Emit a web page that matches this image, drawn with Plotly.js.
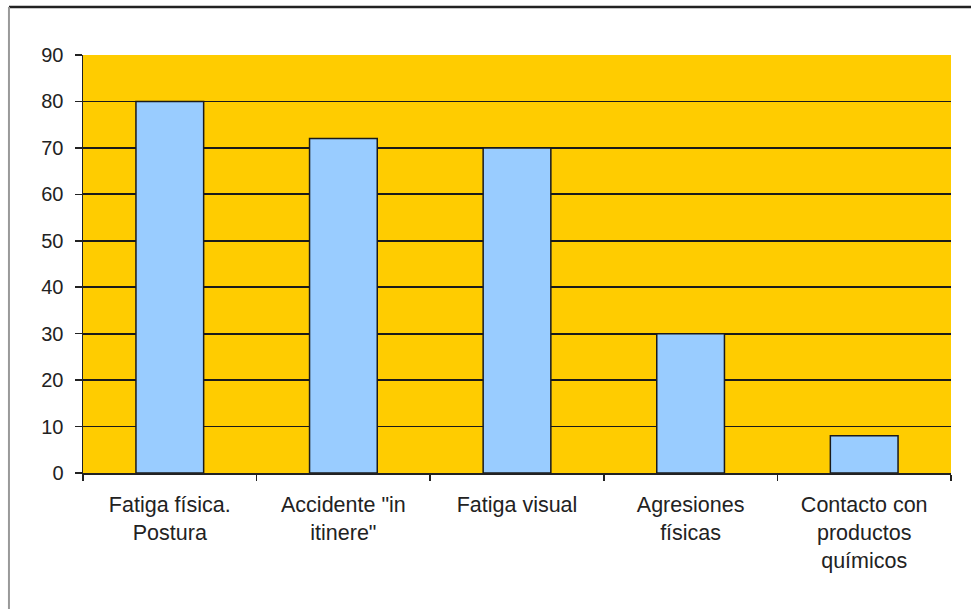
<!DOCTYPE html>
<html>
<head>
<meta charset="utf-8">
<script src="https://cdn.plot.ly/plotly-3.0.1.min.js"></script>
<style>html,body{margin:0;padding:0;background:#fff;}#chart{width:971px;height:609px;}</style>
</head>
<body>
<div id="chart"></div>
<script>
const categories = ["Fatiga física.<br>Postura", "Accidente \"in<br>itinere\"", "Fatiga visual", "Agresiones<br>físicas", "Contacto con<br>productos<br>químicos"];
const values = [80, 72, 70, 30, 8];
const yTicks = [0, 10, 20, 30, 40, 50, 60, 70, 80, 90];

const trace = {
  type: 'bar',
  x: categories,
  y: values,
  width: 0.39,
  marker: {color: '#99CCFF', line: {color: '#1a1a1a', width: 1.5}},
  hoverinfo: 'x+y'
};

const font = {family: '"Liberation Sans", Arial, sans-serif', color: '#222222'};
const layout = {
  width: 971, height: 609,
  margin: {l: 83, r: 20, t: 55, b: 136},
  paper_bgcolor: '#ffffff',
  plot_bgcolor: '#FFCC00',
  showlegend: false,
  font: font,
  xaxis: {
    type: 'category',
    tickson: 'boundaries',
    ticks: 'outside', ticklen: 6, tickcolor: '#222', tickwidth: 1.5,
    showline: true, linecolor: '#222', linewidth: 1.5,
    showgrid: false,
    tickfont: {family: font.family, size: 21.5, color: '#222'},
    ticklabelstandoff: 12,
    tickangle: 0,
    fixedrange: true
  },
  yaxis: {
    range: [0, 90],
    tickvals: yTicks,
    ticktext: yTicks.map(String),
    ticks: 'outside', ticklen: 7, tickcolor: '#222', tickwidth: 1.5,
    showline: true, linecolor: '#222', linewidth: 1.5,
    showgrid: true, gridcolor: '#1a1a1a', gridwidth: 1.7,
    zeroline: false,
    tickfont: {family: font.family, size: 20, color: '#222'},
    ticklabelstandoff: 7,
    fixedrange: true
  },
  shapes: [
    {type: 'line', xref: 'paper', yref: 'paper', x0: -0.0853, x1: 1.03, y0: 1.1148, y1: 1.1148, line: {color: '#222', width: 2.5}},
    {type: 'line', xref: 'paper', yref: 'paper', x0: -0.0853, x1: -0.0853, y0: 1.1148, y1: -0.33, line: {color: '#999', width: 2}}
  ]
};

Plotly.newPlot('chart', [trace], layout, {displayModeBar: false, staticPlot: true});
</script>
</body>
</html>
